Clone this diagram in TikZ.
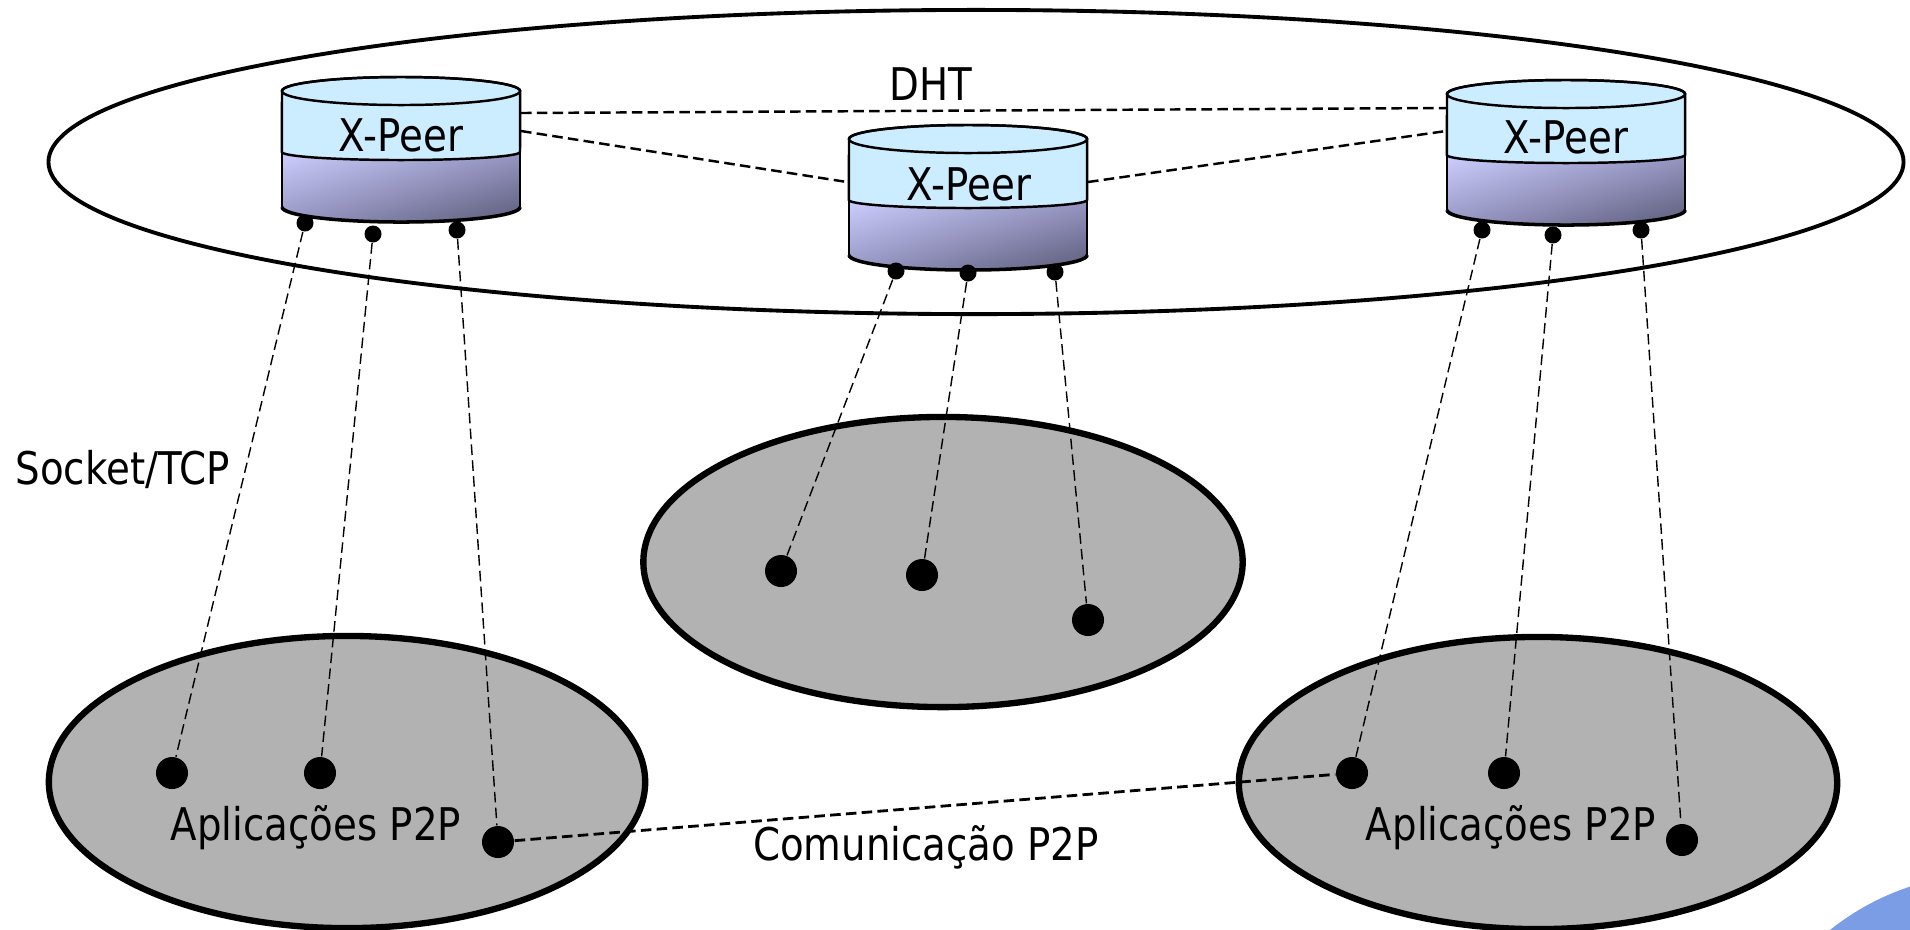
\documentclass[tikz,border=0pt]{standalone}
\usepackage{fontspec}
\usetikzlibrary{shapes.geometric,shadings}
\newfontfamily\lab{DejaVu Sans}[FakeStretch=0.86]
\definecolor{peerTop}{RGB}{204,236,255}
\definecolor{peerA}{RGB}{206,206,255}
\definecolor{peerB}{RGB}{150,150,195}
\definecolor{peerC}{RGB}{92,92,122}
\definecolor{grpGray}{RGB}{178,178,178}
\definecolor{cornerBlue}{RGB}{123,157,230}
\tikzset{
  txt/.style={font=\lab\fontsize{12.8pt}{15pt}\selectfont, inner sep=0pt},
  grp/.style={ellipse, draw=black, line width=1.8pt, fill=grpGray, inner sep=0pt},
  sdot/.style={circle, fill=black, inner sep=0pt, minimum size=0.17cm},
  bdot/.style={circle, fill=black, inner sep=0pt, minimum size=0.32cm},
  tcpline/.style={line width=0.4pt, dash pattern=on 3pt off 1.5pt},
  dhtline/.style={line width=0.7pt, dash pattern=on 3pt off 1.5pt},
  p2pline/.style={line width=0.8pt, dash pattern=on 3pt off 1.5pt},
}
% name, cx, top-centre y (pixels, downward)
\newcommand\peercyl[3]{%
  \pgfmathsetmacro\cxL{#2-119}\pgfmathsetmacro\cxR{#2+119}%
  \pgfmathsetmacro\yT{-#3}\pgfmathsetmacro\yD{-#3-61}\pgfmathsetmacro\yB{-#3-116}%
  \shade[upper left=peerA, upper right=peerB, lower left=peerB, lower right=peerC]
    (\cxL,\yD) -- (\cxL,\yB) arc[start angle=180,end angle=360,x radius=1.19cm,y radius=0.15cm]
    -- (\cxR,\yD) arc[start angle=0,end angle=-180,x radius=1.19cm,y radius=0.08cm] -- cycle;
  \draw[line width=0.7pt] (\cxL,\yD) -- (\cxL,\yB);
  \draw[line width=0.7pt] (\cxR,\yD) -- (\cxR,\yB);
  \draw[line width=1pt] (\cxL,\yB) arc[start angle=180,end angle=360,x radius=1.19cm,y radius=0.15cm];
  \filldraw[fill=peerTop, line width=0.7pt]
    (\cxL,\yT) arc[start angle=180,end angle=0,x radius=1.19cm,y radius=0.14cm]
    -- (\cxR,\yD) arc[start angle=0,end angle=-180,x radius=1.19cm,y radius=0.08cm] -- cycle;
  \draw[line width=0.7pt] (#2,\yT) ellipse[x radius=1.19cm,y radius=0.14cm];
}
\begin{document}
\begin{tikzpicture}[x=0.01cm,y=0.01cm]
\useasboundingbox (0,0) rectangle (1910,-929);
\begin{scope}
  \clip (0,0) rectangle (1910,-929);
  \fill[cornerBlue] (1990,-1130) circle (2.56cm);
\end{scope}

% DHT ring
\node[ellipse, draw=black, line width=1.1pt, minimum width=18.54cm, minimum height=3.04cm, inner sep=0pt] (dht) at (976,-162) {};

% application groups
\node[grp, minimum width=5.96cm, minimum height=2.92cm] (grpL) at (347,-782) {};
\node[grp, minimum width=5.99cm, minimum height=2.90cm] (grpM) at (943,-562) {};
\node[grp, minimum width=5.98cm, minimum height=2.92cm] (grpR) at (1538,-783) {};

% peers
\peercyl{pL}{401}{91}
\peercyl{pM}{968}{139}
\peercyl{pR}{1566}{94}
\node[txt, anchor=base] (tL) at (401,-151) {X-Peer};
\node[txt, anchor=base] (tM) at (969,-200) {X-Peer};
\node[txt, anchor=base] (tR) at (1566,-153) {X-Peer};

\coordinate (pLe1) at (521,-113);
\coordinate (pLe2) at (521,-131);
\coordinate (pMw) at (847,-182);
\coordinate (pMe) at (1088,-182);
\coordinate (pRw1) at (1446,-108);
\coordinate (pRw2) at (1446,-131);

\draw[dhtline] (pLe1) -- (pRw1);
\draw[dhtline] (pLe2) -- (pMw);
\draw[dhtline] (pMe) -- (pRw2);

% peer dots
\node[sdot] (l1) at (305,-223) {};
\node[sdot] (l2) at (373,-234) {};
\node[sdot] (l3) at (457,-230) {};
\node[sdot] (m1) at (896,-271) {};
\node[sdot] (m2) at (968,-273) {};
\node[sdot] (m3) at (1055,-272) {};
\node[sdot] (r1) at (1482,-230) {};
\node[sdot] (r2) at (1553,-235) {};
\node[sdot] (r3) at (1641,-230) {};

% application dots
\node[bdot] (a1) at (172,-773) {};
\node[bdot] (a2) at (320,-773) {};
\node[bdot] (a3) at (498,-842) {};
\node[bdot] (b1) at (781,-571) {};
\node[bdot] (b2) at (922,-575) {};
\node[bdot] (b3) at (1088,-620) {};
\node[bdot] (c1) at (1352,-773) {};
\node[bdot] (c2) at (1504,-773) {};
\node[bdot] (c3) at (1682,-840) {};

\draw[tcpline] (l1) -- (a1);
\draw[tcpline] (l2) -- (a2);
\draw[tcpline] (l3) -- (a3);
\draw[tcpline] (m1) -- (b1);
\draw[tcpline] (m2) -- (b2);
\draw[tcpline] (m3) -- (b3);
\draw[tcpline] (r1) -- (c1);
\draw[tcpline] (r2) -- (c2);
\draw[tcpline] (r3) -- (c3);

\draw[p2pline] (a3) -- (c1);

% labels
\node[txt, anchor=base] (dhtlab) at (931,-100) {DHT};
\node[txt, anchor=base west] (sock) at (15,-484) {Socket/TCP};
\node[txt, anchor=base] (appL) at (316,-840) {Aplicações P2P};
\node[txt, anchor=base] (appR) at (1511,-840) {Aplicações P2P};
\node[txt, anchor=base] (com) at (926,-860) {Comunicação P2P};
\end{tikzpicture}
\end{document}
